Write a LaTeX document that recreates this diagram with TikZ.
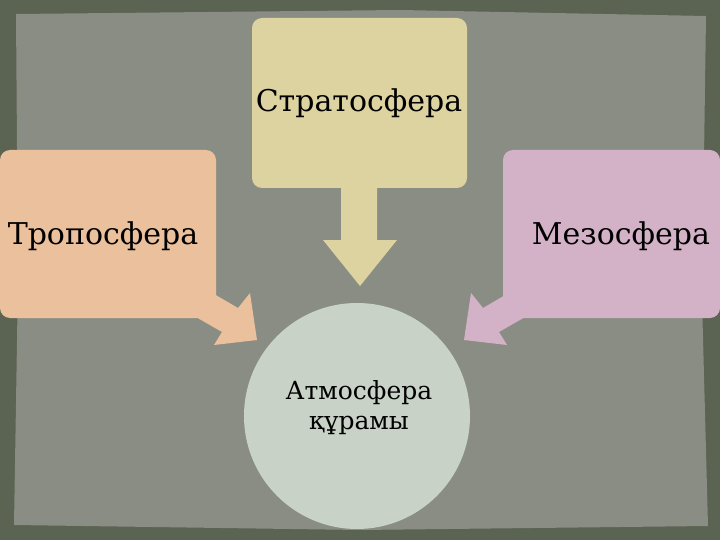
\documentclass[tikz,border=0pt]{standalone}
\usepackage{fontspec}
\setmainfont{DejaVu Serif}
\begin{document}
\begin{tikzpicture}[x=1pt,y=-1pt,
  lbl/.style={font=\fontsize{30}{34}\selectfont, text=black, align=center},
  boxs/.style={rounded corners=10pt}]
\definecolor{outerc}{HTML}{5B6352}
\definecolor{innerc}{HTML}{8A8D84}
\definecolor{yel}{HTML}{DCD3A0}
\definecolor{peach}{HTML}{EBC09D}
\definecolor{lil}{HTML}{D3B2C8}
\definecolor{circ}{HTML}{C8D2C6}
\useasboundingbox (0,0) rectangle (720,540);
\fill[outerc] (0,0) rectangle (720,540);
\fill[innerc] (16,14) -- (400,10) -- (706,16) -- (702,300) -- (708,526) -- (360,530) -- (14,525) -- (18,280) -- cycle;
% arrows
\fill[peach] (190,280) -- (238,308) -- (250,293) -- (257,340) -- (214,345) -- (222,332) -- (175,305) -- cycle;
\fill[lil] (531,280) -- (483,308) -- (471,293) -- (464,340) -- (507,345) -- (499,332) -- (546,305) -- cycle;
\fill[yel] (341,180) -- (377,180) -- (377,240) -- (397,240) -- (360,286) -- (323,240) -- (341,240) -- cycle;
% boxes
\fill[yel,boxs] (252,18) rectangle (467,188);
\fill[peach,boxs] (0,150) rectangle (216,318);
\fill[lil,boxs] (503,150) rectangle (720,318);
\fill[circ] (357,416) circle (113);
\node[lbl] (strat) at (359,103) {Стратосфера};
\node[lbl] (tropo) at (103,236) {Тропосфера};
\node[lbl] (meso) at (621,236) {Мезосфера};
\node[lbl, font=\fontsize{25}{30}\selectfont] (atm) at (359,408) {Атмосфера\\құрамы};
\end{tikzpicture}
\end{document}
